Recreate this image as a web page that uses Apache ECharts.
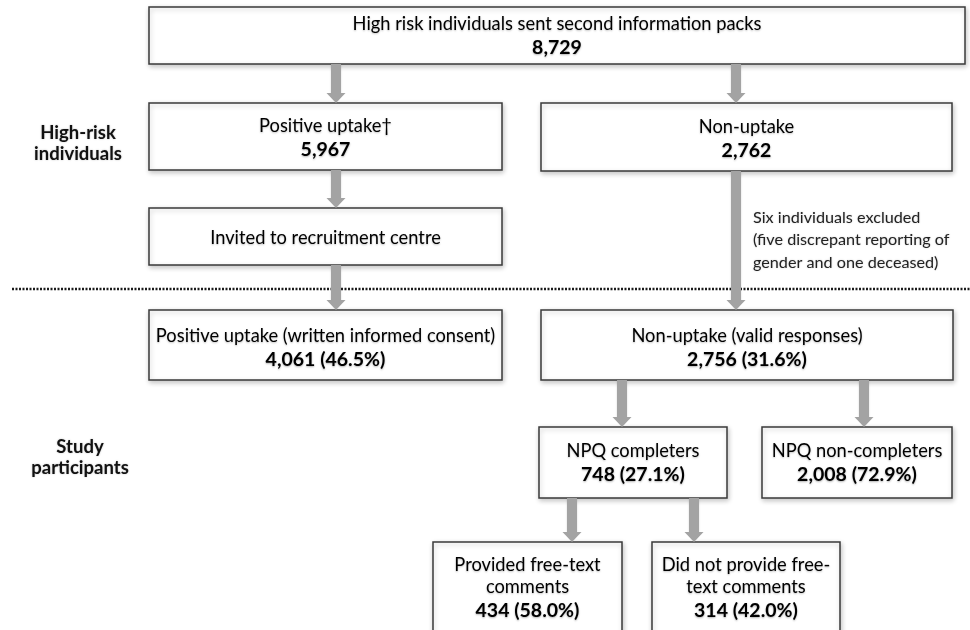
<!DOCTYPE html>
<html><head><meta charset="utf-8">
<script src="https://cdn.jsdelivr.net/npm/echarts@6/dist/echarts.min.js"></script>
<style>html,body{margin:0;padding:0;background:#fff}#c{width:970px;height:630px}</style>
</head><body><div id="c"></div>
<script>
// ---- data ----
const nodeTitles = [
  'High risk individuals sent second information packs',
  'Positive uptake\u2020',
  'Non-uptake',
  'Invited to recruitment centre',
  'Positive uptake (written informed consent)',
  'Non-uptake (valid responses)',
  'NPQ completers',
  'NPQ non-completers',
  'Provided free-text\ncomments',
  'Did not provide free-\ntext comments'
];
const nodeCounts = [8729, 5967, 2762, null, 4061, 2756, 748, 2008, 434, 314];
const nodePercents = [null, null, null, null, 46.5, 31.6, 27.1, 72.9, 58.0, 42.0];
const sectionLabels = ['High-risk\nindividuals', 'Study\nparticipants'];
const exclusionNote = 'Six individuals excluded\n(five discrepant reporting of\ngender and one deceased)';

// ---- layout (diagram coordinates) ----
const nodeBoxes = [[149,7,965,64],[149,103,502,170],[541,103,952,171],[149,208,502,265],
  [149,310,502,380],[541,310,953,380],[539,427,727,498],[762,427,952,498],[433,542,622,648],[652,542,840,648]];
const nodeTextY = [37,139,140,238,349,349,464,464,589,589];
const arrows = [[336,64,103],[736,64,103],[336,170,208],[336,265,310],[736,171,310],[622,380,427],[864,380,427],[572,498,542],[694,498,542]];
const sectionPos = [[78,144],[80,458]];
const notePos = [753, 240];
const dividerY = 289;

const FONT = 'Lato';
const rich = {
  t: {fontFamily: FONT, fontSize: 18.3, lineHeight: 22, color: '#1a1a1a', textShadowBlur: 2, textShadowColor: 'rgba(0,0,0,0.25)', textShadowOffsetY: 1},
  b: {fontFamily: FONT, fontSize: 19.5, fontWeight: 'bold', lineHeight: 25, color: '#111', textShadowBlur: 2, textShadowColor: 'rgba(0,0,0,0.3)', textShadowOffsetY: 1}
};
function nodeText(i) {
  const lines = nodeTitles[i].split('\n').map(s => '{t|' + s + '}');
  if (nodeCounts[i] != null) {
    let s = nodeCounts[i].toLocaleString('en-US');
    if (nodePercents[i] != null) s += ' (' + nodePercents[i].toFixed(1) + '%)';
    lines.push('{b|' + s + '}');
  }
  return lines.join('\n');
}

const chart = echarts.init(document.getElementById('c'), null, {renderer: 'canvas'});
chart.setOption({
  animation: false,
  backgroundColor: '#fff',
  grid: {left: 0, right: 0, top: 0, bottom: 0},
  xAxis: {type: 'value', min: 0, max: 970, show: false},
  yAxis: {type: 'value', min: 0, max: 630, inverse: true, show: false},
  series: [
    {
      type: 'line', silent: true, symbol: 'none', z: 1,
      data: [[12, dividerY], [970, dividerY]],
      lineStyle: {color: '#1a1a1a', width: 2.5, type: [2, 1.5]}
    },
    {
      type: 'custom', z: 2, clip: false,
      data: nodeTitles.map((_, i) => [i]),
      renderItem(params, api) {
        const i = api.value(0);
        const b = nodeBoxes[i];
        const p0 = api.coord([b[0], b[1]]), p1 = api.coord([b[2], b[3]]);
        const ty = api.coord([0, nodeTextY[i]])[1];
        return {type: 'group', children: [
          {type: 'rect', shape: {x: p0[0], y: p0[1], width: p1[0] - p0[0], height: p1[1] - p0[1]},
           style: {fill: '#fff', stroke: '#3a3a3a', lineWidth: 1.5, shadowBlur: 5, shadowColor: 'rgba(0,0,0,0.22)', shadowOffsetX: 1, shadowOffsetY: 2}},
          {type: 'text', x: (p0[0] + p1[0]) / 2, y: ty,
           style: {text: nodeText(i), rich: rich, align: 'center', verticalAlign: 'middle'}}
        ]};
      }
    },
    {
      type: 'custom', z: 3, clip: false,
      data: arrows.map((a, i) => [i]),
      renderItem(params, api) {
        const a = arrows[api.value(0)];
        const top = api.coord([a[0], a[1]]), tip = api.coord([a[0], a[2]]);
        const hh = 10, sw = 5, hw = 9.5;
        return {type: 'group', children: [
          {type: 'rect', shape: {x: top[0] - sw, y: top[1], width: sw * 2, height: tip[1] - hh - top[1] + 0.5},
           style: {fill: '#a3a3a3', shadowBlur: 2, shadowColor: 'rgba(0,0,0,0.15)', shadowOffsetY: 1}},
          {type: 'polygon', shape: {points: [[tip[0] - hw, tip[1] - hh], [tip[0] + hw, tip[1] - hh], [tip[0], tip[1]]]},
           style: {fill: '#a3a3a3'}}
        ]};
      }
    },
    {
      type: 'custom', z: 4, clip: false,
      data: sectionLabels.map((_, i) => [i]),
      renderItem(params, api) {
        const i = api.value(0);
        const p = api.coord(sectionPos[i]);
        return {type: 'text', x: p[0], y: p[1],
          style: {text: sectionLabels[i], fontFamily: FONT, fontSize: 18.5, fontWeight: 'bold', lineHeight: 21, fill: '#111', align: 'center', verticalAlign: 'middle', textShadowBlur: 2, textShadowColor: 'rgba(0,0,0,0.25)'}};
      }
    },
    {
      type: 'custom', z: 4, clip: false,
      data: [[0]],
      renderItem(params, api) {
        const p = api.coord(notePos);
        return {type: 'text', x: p[0], y: p[1],
          style: {text: exclusionNote, fontFamily: FONT, fontSize: 16.2, lineHeight: 22.5, fill: '#222', align: 'left', verticalAlign: 'middle', textShadowBlur: 2, textShadowColor: 'rgba(0,0,0,0.2)'}};
      }
    }
  ]
});
</script>
</body></html>
